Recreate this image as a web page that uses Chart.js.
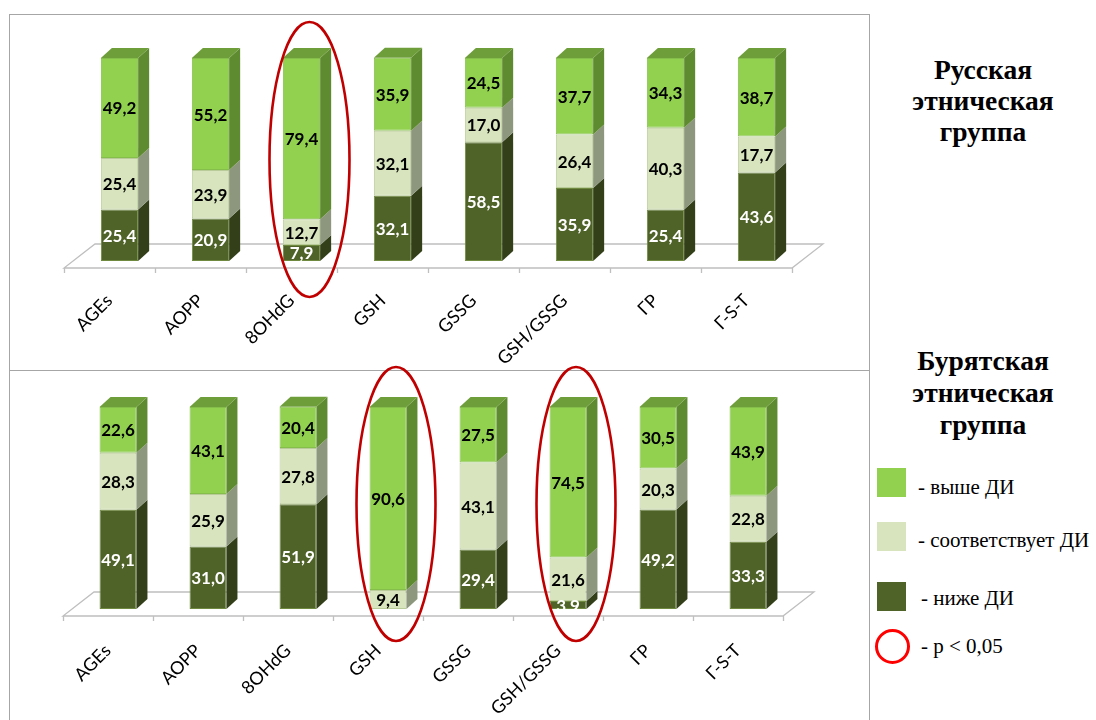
<!DOCTYPE html>
<html><head><meta charset="utf-8">
<script src="https://cdn.jsdelivr.net/npm/chart.js@4.4.1/dist/chart.umd.min.js"></script>
<style>
body{margin:0;background:#fff;width:1096px;height:720px;overflow:hidden;position:relative;font-family:'Liberation Serif',serif;}
.box{position:absolute;border-color:#A6A6A6;border-style:solid;box-sizing:border-box;}
.wrap{position:absolute;left:0;width:870px;}
.title{position:absolute;left:878px;width:210px;text-align:center;font-weight:bold;font-size:27.5px;line-height:31px;color:#000;}
.leg{position:absolute;left:918px;font-size:21px;line-height:24px;color:#000;white-space:nowrap;}
.sw{position:absolute;left:877px;width:29px;height:29px;}
</style></head><body>
<div class="box" style="left:9px;top:14px;width:861px;height:357px;border-width:1.5px;"></div>
<div class="box" style="left:9px;top:369px;width:861px;height:360px;border-width:0 1.5px;"></div>
<div class="wrap" style="top:0;height:369px;"><canvas id="c1"></canvas></div>
<div class="wrap" style="top:355px;height:365px;"><canvas id="c2"></canvas></div>

<div class="title" style="top:54px;">Русская<br>этническая<br>группа</div>
<div class="title" style="top:345px;line-height:32px;">Бурятская<br>этническая<br>группа</div>

<div class="sw" style="top:468px;background:#92D050;"></div>
<div class="leg" style="top:475px;">- выше ДИ</div>
<div class="sw" style="top:522px;background:#D7E4BD;"></div>
<div class="leg" style="top:528px;">- соответствует ДИ</div>
<div class="sw" style="top:582px;background:#4F6228;"></div>
<div class="leg" style="top:586px;left:921px;">- ниже ДИ</div>
<div style="position:absolute;left:875px;top:629px;width:29px;height:29px;border:3px solid #FF0000;border-radius:50%;"></div>
<div class="leg" style="top:634px;left:921px;">- p &lt; 0,05</div>

<script>
const categories = ['AGEs','AOPP','8OHdG','GSH','GSSG','GSH/GSSG','ГР','Г-S-T'];
const seriesNames = ['ниже ДИ','соответствует ДИ','выше ДИ'];

// Русская этническая группа (%)
const rusBelow  = [25.4, 20.9, 7.9, 32.1, 58.5, 35.9, 25.4, 43.6];
const rusWithin = [25.4, 23.9, 12.7, 32.1, 17.0, 26.4, 40.3, 17.7];
const rusAbove  = [49.2, 55.2, 79.4, 35.9, 24.5, 37.7, 34.3, 38.7];

// Бурятская этническая группа (%)
const burBelow  = [49.1, 31.0, 51.9, 0.0, 29.4, 3.9, 49.2, 33.3];
const burWithin = [28.3, 25.9, 27.8, 9.4, 43.1, 21.6, 20.3, 22.8];
const burAbove  = [22.6, 43.1, 20.4, 90.6, 27.5, 74.5, 30.5, 43.9];

// categories marked p < 0.05
const rusSignificant = ['8OHdG'];
const burSignificant = ['GSH','GSH/GSSG'];

const frontColors = ['#4F6228','#D7E4BD','#92D050'];
const borderColors = ['#6F8A3E','#B9CB98','#86BE4C'];
const sideColors  = ['#323F19','#8D977D','#5F8B30'];
const topColors   = ['#3E4E1E','#B6C49A','#6E9E3A'];
const labelColors = ['#FFFFFF','#000000','#000000'];
const DX = 11, DY = 10;

const fmt = v => v.toFixed(1).replace('.', ',');

const threeD = {
  id: 'threeD',
  beforeDatasetsDraw(chart) {
    const ctx = chart.ctx, ca = chart.chartArea;
    const n = chart.data.labels.length;
    const step = (ca.right - ca.left) / n;
    const fy = ca.bottom + 7, shift = -10, bx = 31, by = 24;
    const x0 = ca.left + shift, x1 = ca.right + shift;
    ctx.save();
    ctx.strokeStyle = '#BFBFBF'; ctx.lineWidth = 1.3;
    ctx.beginPath();
    ctx.moveTo(x0, fy); ctx.lineTo(x1, fy); ctx.lineTo(x1 + bx, fy - by);
    ctx.lineTo(x0 + bx, fy - by); ctx.closePath(); ctx.stroke();
    ctx.beginPath();
    for (let i = 0; i <= n; i++) {
      const tx = Math.round(x0 + i * step) + 0.5;
      ctx.moveTo(tx, fy); ctx.lineTo(tx, fy + 5);
    }
    ctx.stroke();
    ctx.restore();
  },
  afterDatasetsDraw(chart) {
    const ctx = chart.ctx;
    const nDs = chart.data.datasets.length;
    ctx.save();
    chart.data.labels.forEach((lab, i) => {
      let topIdx = -1;
      for (let d = 0; d < nDs; d++) if (chart.data.datasets[d].data[i] > 0) topIdx = d;
      for (let d = 0; d < nDs; d++) {
        const v = chart.data.datasets[d].data[i];
        if (!(v > 0)) continue;
        const el = chart.getDatasetMeta(d).data[i];
        const xl = el.x - el.width / 2, xr = el.x + el.width / 2;
        const yt = Math.min(el.y, el.base), yb = Math.max(el.y, el.base);
        ctx.fillStyle = sideColors[d];
        ctx.beginPath();
        ctx.moveTo(xr, yt); ctx.lineTo(xr + DX, yt - DY); ctx.lineTo(xr + DX, yb - DY); ctx.lineTo(xr, yb);
        ctx.closePath(); ctx.fill();
        if (d === topIdx) {
          ctx.fillStyle = topColors[d];
          ctx.beginPath();
          ctx.moveTo(xl, yt); ctx.lineTo(xl + DX, yt - DY); ctx.lineTo(xr + DX, yt - DY); ctx.lineTo(xr, yt);
          ctx.closePath(); ctx.fill();
        }
      }
      for (let d = 0; d < nDs; d++) {
        const v = chart.data.datasets[d].data[i];
        if (!(v > 0)) continue;
        const el = chart.getDatasetMeta(d).data[i];
        ctx.fillStyle = labelColors[d];
        ctx.font = 'bold 17px Lato, sans-serif';
        ctx.textAlign = 'center'; ctx.textBaseline = 'middle';
        ctx.fillText(fmt(v), el.x, (el.y + el.base) / 2 + 1);
      }
    });
    ctx.restore();
  },
  afterDraw(chart, args, opts) {
    const ctx = chart.ctx, ca = chart.chartArea;
    ctx.save();
    ctx.strokeStyle = '#C00000'; ctx.lineWidth = 2.6;
    (opts.marks || []).forEach(m => {
      const i = chart.data.labels.indexOf(m.cat);
      if (i < 0) return;
      const cx = chart.scales.x.getPixelForValue(i) + m.dx;
      const cy = (ca.top + ca.bottom) / 2 + m.dy;
      ctx.beginPath();
      ctx.ellipse(cx, cy, m.rx, (ca.bottom - ca.top) / 2 + m.ryExtra, 0, 0, Math.PI * 2);
      ctx.stroke();
    });
    ctx.restore();
  }
};

function makeChart(id, below, within, above, pad, axisH, tickPad, marks) {
  const vals = [below, within, above];
  return new Chart(document.getElementById(id), {
    type: 'bar',
    data: {
      labels: categories,
      datasets: vals.map((v, d) => ({
        label: seriesNames[d], data: v,
        backgroundColor: frontColors[d], borderColor: borderColors[d], borderWidth: 1,
        borderSkipped: false,
        barPercentage: 0.41, categoryPercentage: 1.0
      }))
    },
    options: {
      responsive: true, maintainAspectRatio: false, animation: false,
      layout: { padding: pad },
      plugins: { legend: { display: false }, tooltip: { enabled: false }, threeD: { marks } },
      scales: {
        x: {
          stacked: true,
          grid: { display: false, drawTicks: false },
          border: { display: false },
          ticks: { maxRotation: 45, minRotation: 45, padding: tickPad, labelOffset: -10,
                   color: '#000', font: { family: 'Lato, sans-serif', size: 18 } },
          afterFit: s => { s.height = axisH; }
        },
        y: { stacked: true, display: false, min: 0, max: 100 }
      }
    },
    plugins: [threeD]
  });
}

makeChart('c1', rusBelow, rusWithin, rusAbove, { left: 74, right: 68, top: 58, bottom: 0 }, 108, 29,
  rusSignificant.map(c => ({ cat: c, dx: 8, dy: 0, rx: 40, ryExtra: 36 })));
makeChart('c2', burBelow, burWithin, burAbove, { left: 73, right: 77, top: 52, bottom: 0 }, 111, 31,
  burSignificant.map(c => ({ cat: c, dx: 8, dy: -4, rx: 39.5, ryExtra: 36 })));
</script>
</body></html>
